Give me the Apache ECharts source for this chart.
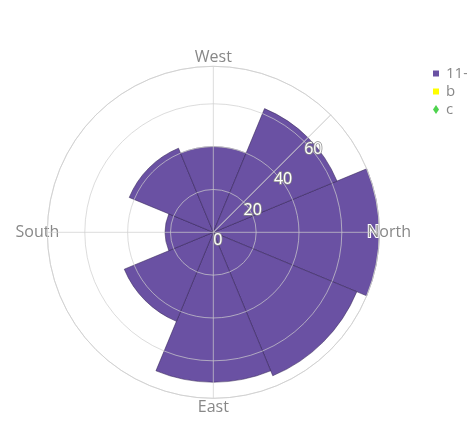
<!DOCTYPE html>
<html>
<head>
<meta charset="utf-8">
<script src="https://cdn.jsdelivr.net/npm/echarts@6/dist/echarts.min.js"></script>
<style>
  html, body { margin: 0; padding: 0; background: #fff; }
  #main { width: 467px; height: 433px; }
</style>
</head>
<body>
<div id="main"></div>
<script>
var directions = ['North', 'N-E', 'East', 'S-E', 'South', 'S-W', 'West', 'N-W'];
var windValues = [77.5, 72.5, 70.0, 45.0, 22.5, 42.5, 40.0, 62.5];
var seriesNames = ['11-14 m/s', 'b', 'c'];
var radialInterval = 20;

var gridColor = 'rgba(205,205,205,0.7)';
var textColor = '#888';
var fontFamily = '"Open Sans", sans-serif';
var center = ['45.68%', '53.65%'];

var chart = echarts.init(document.getElementById('main'));

var option = {
    animation: false,
    legend: {
        orient: 'vertical',
        left: 428,
        top: 61,
        itemWidth: 6,
        itemHeight: 9,
        itemGap: 3,
        symbolKeepAspect: true,
        itemStyle: { borderWidth: 0 },
        textStyle: { color: textColor, fontSize: 15, fontFamily: fontFamily, padding: [0, 0, 0, 2] },
        data: [
            { name: seriesNames[0], icon: 'path://M0,0h1v1h-1z' },
            { name: seriesNames[1], icon: 'path://M0,0h1v1h-1z' },
            { name: seriesNames[2], icon: 'diamond' }
        ]
    },
    polar: [
        { center: center, radius: 166 },
        { center: center, radius: 166 }
    ],
    angleAxis: [
        {
            // bars, labels at band centres
            polarIndex: 0,
            type: 'category',
            data: directions,
            startAngle: 22.5,
            clockwise: true,
            z: 10,
            axisLine: { show: false },
            axisTick: { show: false },
            splitLine: { show: false },
            axisLabel: {
                interval: 1,
                margin: -12,
                padding: [13, 0, 13, 0],
                color: textColor,
                fontSize: 16,
                fontFamily: fontFamily,
                textBorderColor: '#fff',
                textBorderWidth: 2
            }
        },
        {
            // grid: spokes at 0/90/180/270 and outer circle
            polarIndex: 1,
            type: 'category',
            data: directions,
            startAngle: 45,
            z: 10,
            axisLine: { show: true, lineStyle: { color: gridColor, width: 1 } },
            axisTick: { show: false, interval: function (i) { return i % 2 === 1; } },
            axisLabel: { show: false },
            splitLine: { show: true, lineStyle: { color: gridColor, width: 1 } }
        }
    ],
    radiusAxis: [
        {
            polarIndex: 0,
            min: 0,
            max: 'dataMax',
            axisLine: { show: false },
            axisTick: { show: false },
            axisLabel: { show: false },
            splitLine: { show: false }
        },
        {
            polarIndex: 1,
            min: 0,
            max: 'dataMax',
            interval: radialInterval,
            z: 10,
            axisLine: { show: true, lineStyle: { color: gridColor, width: 1 } },
            axisTick: { show: false },
            splitLine: { show: true, lineStyle: { color: gridColor, width: 1 } },
            axisLabel: {
                showMaxLabel: false,
                margin: 0,
                align: 'left',
                verticalAlign: 'top',
                color: '#fff',
                fontSize: 16,
                fontFamily: fontFamily,
                textBorderColor: '#8a8a8a',
                textBorderWidth: 1.5
            }
        }
    ],
    series: [
        {
            name: seriesNames[0],
            type: 'bar',
            coordinateSystem: 'polar',
            polarIndex: 0,
            stack: 'wind',
            barCategoryGap: '0%',
            itemStyle: { color: 'rgb(106,81,163)', borderColor: 'rgba(45,30,80,0.85)', borderWidth: 0.6 },
            data: windValues
        },
        {
            name: seriesNames[1],
            type: 'bar',
            coordinateSystem: 'polar',
            polarIndex: 0,
            stack: 'wind',
            itemStyle: { color: '#ffff00' },
            data: []
        },
        {
            name: seriesNames[2],
            type: 'scatter',
            coordinateSystem: 'polar',
            polarIndex: 0,
            symbol: 'diamond',
            itemStyle: { color: '#22c822' },
            data: []
        },
        {
            // dummy to give the grid polar a data extent
            type: 'bar',
            coordinateSystem: 'polar',
            polarIndex: 1,
            silent: true,
            itemStyle: { color: 'transparent' },
            data: windValues
        }
    ]
};

chart.setOption(option);
</script>
</body>
</html>
